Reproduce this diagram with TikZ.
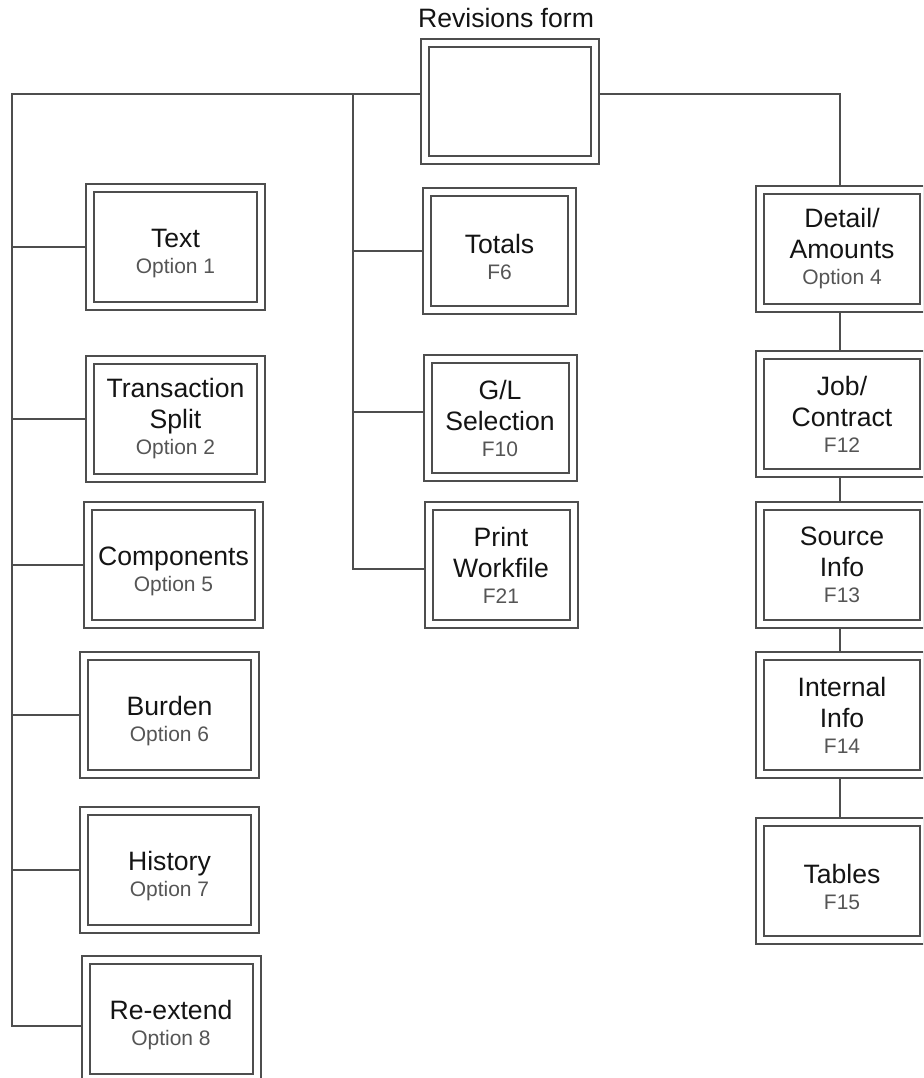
\documentclass[tikz,border=0pt]{standalone}
\usepackage{fontspec}
\setmainfont{Liberation Sans}
\definecolor{linegray}{RGB}{78,78,78}
\definecolor{maintext}{RGB}{20,20,20}
\definecolor{subtext}{RGB}{85,85,85}
\newcommand{\optline}[1]{{\color{subtext}\fontsize{21}{26}\selectfont #1}}
% taller first line, used to sit two-line labels a little lower
\newcommand{\tall}{\rule{0pt}{31pt}}
\tikzset{
  wire/.style={draw=linegray, line width=2pt},
  menubox/.style 2 args={draw=linegray, line width=2pt, double=white,
    double distance=6pt, outer sep=4pt, inner sep=0pt,
    minimum width=#1, minimum height=#2, align=center,
    text=maintext, font=\fontsize{26.6}{31}\selectfont},
  leftbox/.style={menubox={171pt}{118pt}},
  midbox/.style={menubox={145pt}{118pt}},
  rightbox/.style={menubox={164pt}{118pt}},
}
\begin{document}
\begin{tikzpicture}[x=1pt, y=-1pt]
  \useasboundingbox (0,0) rectangle (923,1078);
  \clip (0,0) rectangle (923,1078);

  % top-level form and its caption
  \node[menubox={170pt}{117pt}] (rev) at (510,101.5) {};
  \node[anchor=base, text=maintext, font=\fontsize{26.6}{31}\selectfont]
    (title) at (506,28) {Revisions form};

  % left column (options)
  \node[leftbox] (text)  at (175.5,247)  {\tall Text\\[-5pt]\optline{Option 1}};
  \node[leftbox] (split) at (175.5,419)  {Transaction\\Split\\[-5pt]\optline{Option 2}};
  \node[leftbox] (comp)  at (173.5,565)  {\tall Components\\[-5pt]\optline{Option 5}};
  \node[leftbox] (burd)  at (169.5,715)  {\tall Burden\\[-5pt]\optline{Option 6}};
  \node[leftbox] (hist)  at (169.5,870)  {\tall History\\[-5pt]\optline{Option 7}};
  \node[leftbox] (reext) at (171,1019)   {\tall Re-extend\\[-5pt]\optline{Option 8}};

  % middle column (function keys)
  \node[midbox] (tot)   at (499.5,251) {\tall Totals\\[-5pt]\optline{F6}};
  \node[midbox] (gl)    at (500,418)   {G/L\\Selection\\[-5pt]\optline{F10}};
  \node[midbox] (print) at (501,565)   {Print\\Workfile\\[-5pt]\optline{F21}};

  % right column (chained screens)
  \node[rightbox] (det)  at (842,249) {Detail/\\Amounts\\[-5pt]\optline{Option 4}};
  \node[rightbox] (job)  at (842,414) {Job/\\Contract\\[-5pt]\optline{F12}};
  \node[rightbox] (src)  at (842,565) {Source\\Info\\[-5pt]\optline{F13}};
  \node[rightbox] (intl) at (842,715) {Internal\\Info\\[-5pt]\optline{F14}};
  \node[rightbox] (tab)  at (842,881) {\tall Tables\\[-5pt]\optline{F15}};

  % spine coordinates
  \coordinate (ltop) at (12,94);
  \coordinate (lend) at (12,1026);
  \coordinate (mtop) at (353,94);
  \coordinate (mend) at (353,569);
  \coordinate (glj)  at (353,412);
  \coordinate (rturn) at (840,94);

  % left spine
  \draw[wire] (ltop -| rev.west) -- (ltop) -- (lend) -- (lend -| reext.west);
  \foreach \n in {text,split,comp,burd,hist}
    \draw[wire] (ltop |- \n.west) -- (\n.west);

  % middle spine
  \draw[wire] (mtop) -- (mend) -- (mend -| print.west);
  \draw[wire] (mtop |- tot.west) -- (tot.west);
  \draw[wire] (glj) -- (glj -| gl.west);

  % right chain
  \draw[wire] (rturn -| rev.east) -- (rturn) -- (rturn |- det.north);
  \draw[wire] (rturn |- det.south) -- (rturn |- job.north);
  \draw[wire] (rturn |- job.south) -- (rturn |- src.north);
  \draw[wire] (rturn |- src.south) -- (rturn |- intl.north);
  \draw[wire] (rturn |- intl.south) -- (rturn |- tab.north);
\end{tikzpicture}
\end{document}
